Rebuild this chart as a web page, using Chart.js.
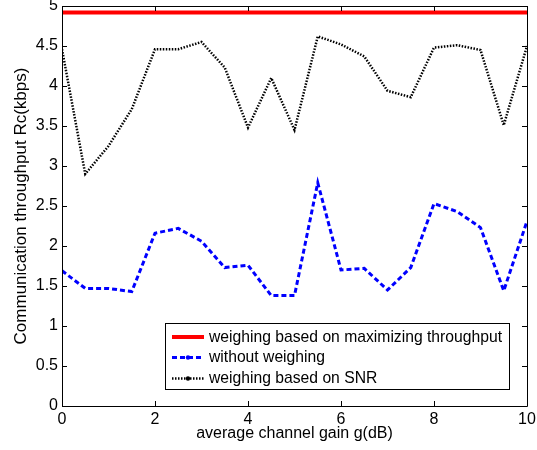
<!DOCTYPE html>
<html><head><meta charset="utf-8">
<script src="https://cdn.jsdelivr.net/npm/chart.js@4/dist/chart.umd.min.js"></script>
<style>html,body{margin:0;padding:0;background:#fff}#wrap{width:537px;height:450px}</style>
</head><body><div id="wrap"><canvas id="c" width="537" height="450"></canvas></div>
<script>
const gains = [0,0.5,1,1.5,2,2.5,3,3.5,4,4.5,5,5.5,6,6.5,7,7.5,8,8.5,9,9.5,10];
const maxThroughput = [4.92,4.92,4.92,4.92,4.92,4.92,4.92,4.92,4.92,4.92,4.92,4.92,4.92,4.92,4.92,4.92,4.92,4.92,4.92,4.92,4.92];
const withoutWeighing = [1.69,1.47,1.47,1.43,2.16,2.22,2.06,1.73,1.76,1.38,1.38,2.79,1.70,1.72,1.45,1.73,2.53,2.43,2.23,1.44,2.31];
const snrWeighing = [4.46,2.90,3.25,3.71,4.46,4.46,4.55,4.23,3.48,4.10,3.45,4.62,4.52,4.37,3.94,3.86,4.48,4.51,4.45,3.51,4.50];
const seriesNames = ['weighing based on maximizing throughput','without weighing','weighing based on SNR'];
const xTitle = 'average channel gain g(dB)';
const yTitle = 'Communication throughput Rc(kbps)';

const FONT = 'Liberation Sans, Arial, sans-serif';
const pts = arr => gains.map((g,i)=>({x:g,y:arr[i]}));

const boxPlugin = {
  id:'box',
  afterDatasetsDraw(chart){
    const {ctx, chartArea:a, scales:{x,y}} = chart;
    ctx.save();
    ctx.strokeStyle='#000'; ctx.lineWidth=1;
    ctx.beginPath();
    ctx.rect(a.left+0.5, a.top+0.5, a.right-a.left, a.bottom-a.top);
    ctx.stroke();
    ctx.beginPath();
    x.ticks.forEach(t=>{const p=Math.round(x.getPixelForValue(t.value))+0.5;
      ctx.moveTo(p,a.bottom); ctx.lineTo(p,a.bottom-5);
      ctx.moveTo(p,a.top); ctx.lineTo(p,a.top+5);});
    y.ticks.forEach(t=>{const p=Math.round(y.getPixelForValue(t.value))+0.5;
      ctx.moveTo(a.left,p); ctx.lineTo(a.left+5,p);
      ctx.moveTo(a.right,p); ctx.lineTo(a.right-5,p);});
    ctx.stroke();
    // legend
    const L=165, T=323, R=509, B=389;
    ctx.fillStyle='#fff'; ctx.fillRect(L,T,R-L,B-T);
    ctx.strokeRect(L+0.5,T+0.5,R-L,B-T);
    const rows=[337,357.5,378.5];
    chart.data.datasets.forEach((ds,i)=>{
      ctx.save();
      ctx.strokeStyle=ds.borderColor; ctx.lineWidth=ds.borderWidth;
      ctx.setLineDash(ds.borderDash||[]);
      ctx.beginPath(); ctx.moveTo(172,rows[i]); ctx.lineTo(204,rows[i]); ctx.stroke();
      if(i>0){ctx.fillStyle=ds.borderColor; ctx.beginPath(); ctx.arc(188,rows[i],2.2,0,Math.PI*2); ctx.fill();}
      ctx.restore();
      ctx.fillStyle='#000'; ctx.font='15.7px '+FONT; ctx.textBaseline='middle'; ctx.textAlign='left';
      ctx.fillText(ds.label,209,rows[i]+0.5);
    });
    ctx.restore();
  }
};

new Chart(document.getElementById('c'),{
  type:'line',
  data:{datasets:[
    {label:seriesNames[0],data:pts(maxThroughput),borderColor:'#ff0000',borderWidth:4,pointRadius:0,tension:0},
    {label:seriesNames[1],data:pts(withoutWeighing),borderColor:'#0000ff',borderWidth:3,borderDash:[5,3],pointRadius:0,tension:0},
    {label:seriesNames[2],data:pts(snrWeighing),borderColor:'#000000',borderWidth:2.5,borderDash:[1.5,1.5],pointRadius:0,tension:0}
  ]},
  options:{
    responsive:false, animation:false, devicePixelRatio:1,
    layout:{padding:{top:6,right:10,left:0,bottom:0}},
    plugins:{legend:{display:false},tooltip:{enabled:false}},
    scales:{
      x:{type:'linear',min:0,max:10,
        grid:{display:false,drawTicks:false},border:{display:false},
        ticks:{stepSize:2,padding:4,color:'#000',font:{family:FONT,size:16},maxRotation:0},
        title:{display:true,text:xTitle,color:'#000',font:{family:FONT,size:16},padding:{top:0,bottom:7}},
        afterFit(s){s.height=44;s.paddingLeft=0;s.paddingRight=0;}
      },
      y:{type:'linear',min:0,max:5,
        grid:{display:false,drawTicks:false},border:{display:false},
        ticks:{stepSize:0.5,padding:4,color:'#000',font:{family:FONT,size:16},callback:v=>String(v)},
        title:{display:true,text:yTitle,color:'#000',font:{family:FONT,size:17},padding:{top:11,bottom:0}},
        afterFit(s){s.width=62;s.paddingTop=0;s.paddingBottom=0;}
      }
    }
  },
  plugins:[boxPlugin]
});
</script></body></html>
